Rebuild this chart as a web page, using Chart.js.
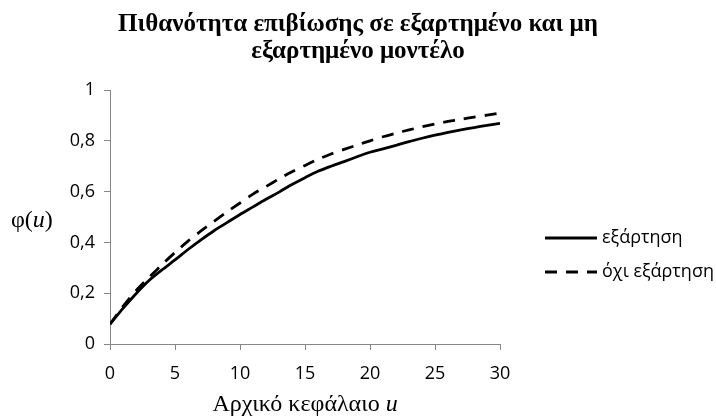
<!DOCTYPE html>
<html>
<head>
<meta charset="utf-8">
<script src="https://cdn.jsdelivr.net/npm/chart.js@4"></script>
<style>
  html, body { margin: 0; padding: 0; background: #fff; }
  #wrap { width: 716px; height: 419px; }
</style>
</head>
<body>
<div id="wrap"><canvas id="chart" width="716" height="419"></canvas></div>
<script>
// initial capital u
const capital = [0, 1, 2, 3, 4, 5, 6, 7, 8, 9, 10, 11, 12, 13, 14, 15, 16, 17, 18, 19, 20,
  21, 22, 23, 24, 25, 26, 27, 28, 29, 30];
// survival probability, dependent model
const dependent = [0.078, 0.140, 0.198, 0.250, 0.292, 0.331, 0.372, 0.410, 0.446, 0.478, 0.510,
  0.540, 0.570, 0.598, 0.628, 0.655, 0.680, 0.700, 0.718, 0.737, 0.755,
  0.768, 0.782, 0.797, 0.810, 0.822, 0.833, 0.843, 0.852, 0.861, 0.869];
// survival probability, independent model
const independent = [0.078, 0.148, 0.210, 0.262, 0.313, 0.360, 0.405, 0.445, 0.483, 0.520, 0.555,
  0.590, 0.620, 0.650, 0.678, 0.703, 0.727, 0.748, 0.766, 0.783, 0.800,
  0.816, 0.830, 0.843, 0.855, 0.866, 0.876, 0.885, 0.893, 0.901, 0.909];
const seriesNames = ['εξάρτηση', 'όχι εξάρτηση'];
const yTickLabels = ['0', '0,2', '0,4', '0,6', '0,8', '1'];
const titleLines = ['Πιθανότητα επιβίωσης σε εξαρτημένο και μη', 'εξαρτημένο μοντέλο'];
const xTitle = ['Αρχικό κεφάλαιο ', 'u'];
const yTitle = ['φ(', 'u', ')'];

const axisGrey = '#868686';
const tickFont = { family: 'Open Sans', size: 18 };

// draws a run of text pieces, odd pieces in italics
function drawMixed(ctx, parts, x, y, size, align) {
  const fonts = parts.map((p, i) => (i % 2 ? 'italic ' : '') + size + 'px "Liberation Serif"');
  const widths = parts.map((p, i) => { ctx.font = fonts[i]; return ctx.measureText(p).width; });
  const total = widths.reduce((a, b) => a + b, 0);
  let cx = align === 'center' ? x - total / 2 : x;
  parts.forEach((p, i) => {
    ctx.font = fonts[i];
    ctx.fillText(p, cx, y);
    cx += widths[i];
  });
}

const extras = {
  id: 'extras',
  afterDraw(chart) {
    const { ctx, chartArea } = chart;
    ctx.save();
    ctx.fillStyle = '#000';
    ctx.textAlign = 'left';
    ctx.textBaseline = 'middle';
    drawMixed(ctx, xTitle, (chartArea.left + chartArea.right) / 2, 405, 24, 'center');
    drawMixed(ctx, yTitle, 11, 221, 24, 'left');

    // legend
    chart.data.datasets.forEach((ds, i) => {
      const y = 238 + i * 34;
      const x0 = chartArea.right + 45;
      ctx.strokeStyle = ds.borderColor;
      ctx.lineWidth = 3;
      ctx.setLineDash(ds.borderDash || []);
      ctx.beginPath();
      ctx.moveTo(x0, y);
      ctx.lineTo(x0 + 52, y);
      ctx.stroke();
      ctx.setLineDash([]);
      ctx.font = '18px "Open Sans"';
      ctx.fillText(ds.label, x0 + 57, y);
    });
    ctx.restore();
  }
};

new Chart(document.getElementById('chart'), {
  type: 'line',
  data: {
    datasets: [
      {
        label: seriesNames[0],
        data: capital.map((u, i) => ({ x: u, y: dependent[i] })),
        borderColor: '#000',
        borderWidth: 2.8,
        pointRadius: 0,
        tension: 0.3,
        fill: false,
      },
      {
        label: seriesNames[1],
        data: capital.map((u, i) => ({ x: u, y: independent[i] })),
        borderColor: '#000',
        borderWidth: 2.8,
        borderDash: [12, 9],
        pointRadius: 0,
        tension: 0.3,
        fill: false,
      },
    ],
  },
  options: {
    responsive: false,
    animation: false,
    layout: { padding: 0 },
    plugins: {
      legend: { display: false },
      tooltip: { enabled: false },
      title: {
        display: true,
        text: titleLines,
        color: '#000',
        font: { family: 'Liberation Serif', size: 25, weight: 'bold', lineHeight: 1.08 },
        padding: { top: 11, bottom: 25 },
      },
    },
    scales: {
      x: {
        type: 'linear',
        min: 0,
        max: 30,
        ticks: { stepSize: 5, color: '#000', font: tickFont, padding: 13 },
        grid: { drawOnChartArea: false, tickLength: 6, color: axisGrey },
        border: { color: axisGrey },
        afterFit: (s) => { s.height = 75; },
      },
      y: {
        min: 0,
        max: 1,
        ticks: {
          stepSize: 0.2,
          color: '#000',
          font: tickFont,
          padding: 9,
          callback: (v, i) => yTickLabels[i],
        },
        grid: { drawOnChartArea: false, tickLength: 6, color: axisGrey },
        border: { color: axisGrey },
        afterFit: (s) => { s.width = 110; },
      },
      spacer: {
        position: 'right',
        display: true,
        grid: { display: false },
        border: { display: false },
        ticks: { display: false },
        afterFit: (s) => { s.width = 216; },
      },
    },
  },
  plugins: [extras],
});
</script>
</body>
</html>
